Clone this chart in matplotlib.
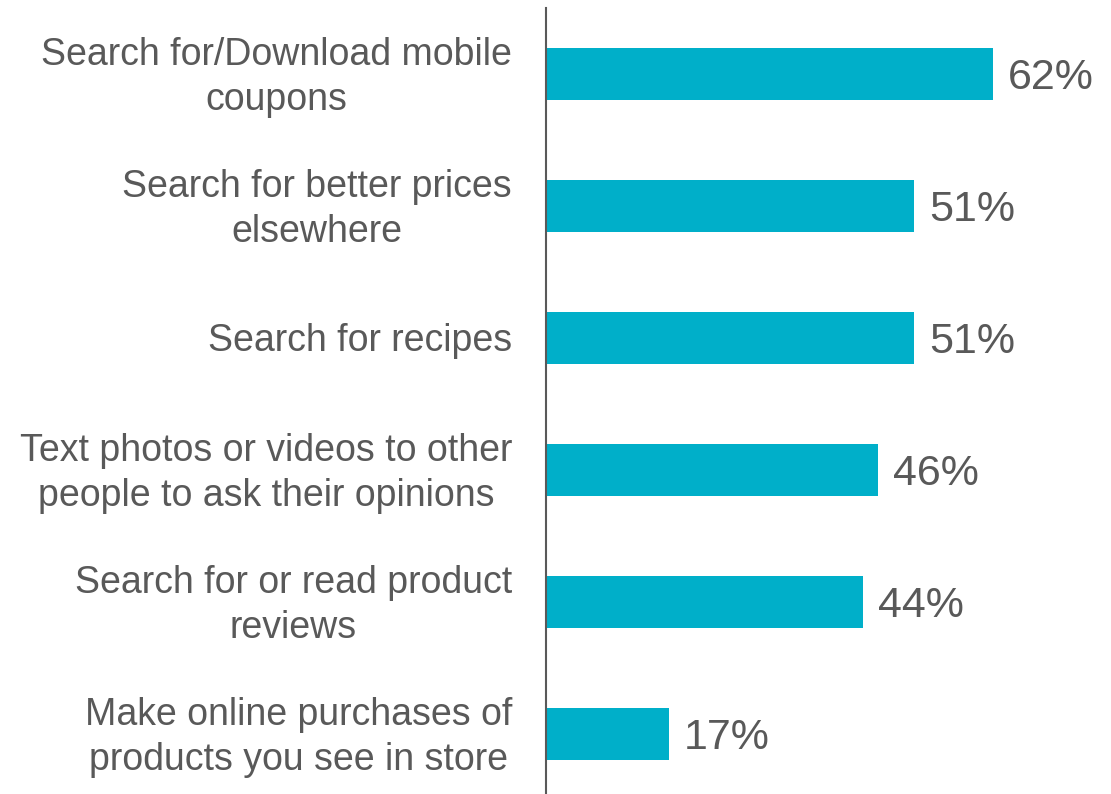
import matplotlib
matplotlib.use("Agg")
import matplotlib.pyplot as plt

categories = [
    "Search for/Download mobile\ncoupons",
    "Search for better prices\nelsewhere",
    "Search for recipes",
    "Text photos or videos to other\npeople to ask their opinions",
    "Search for or read product\nreviews",
    "Make online purchases of\nproducts you see in store",
]
values = [62, 51, 51, 46, 44, 17]

BAR_COLOR = "#00AFC9"
TEXT_COLOR = "#595959"

plt.rcParams["font.family"] = ["Liberation Sans", "DejaVu Sans"]

fig = plt.figure(figsize=(11.11, 7.94), dpi=100)
ax = fig.add_axes([546 / 1111, -6 / 794, 1 - 546 / 1111, 792 / 794])

y = list(range(len(categories)))
bars = ax.barh(y, values, height=0.4, color=BAR_COLOR)

ax.set_ylim(len(categories) - 0.5, -0.5)
ax.set_xlim(0, 78.4)
ax.set_yticks([])
ax.set_xticks([])

for side in ("top", "right", "bottom"):
    ax.spines[side].set_visible(False)
ax.spines["left"].set_color(TEXT_COLOR)
ax.spines["left"].set_linewidth(1.5)

# category labels, right-aligned to the left of the axis line
label_tf = ax.get_yaxis_transform()
for yi, cat in zip(y, categories):
    dy = 3.6 if "\n" in cat else 0.7
    ax.annotate(cat, xy=(0, yi), xycoords=label_tf, xytext=(-24.5, dy),
                textcoords="offset points", ha="right", va="center_baseline",
                multialignment="center", linespacing=1.31,
                fontsize=27, color=TEXT_COLOR, annotation_clip=False)

# value labels just past the end of each bar
for yi, v in zip(y, values):
    ax.annotate(f"{v}%", xy=(v, yi), xytext=(11, -3), textcoords="offset points",
                ha="left", va="center", fontsize=31, color=TEXT_COLOR)

fig.savefig("out.png", dpi=100)
